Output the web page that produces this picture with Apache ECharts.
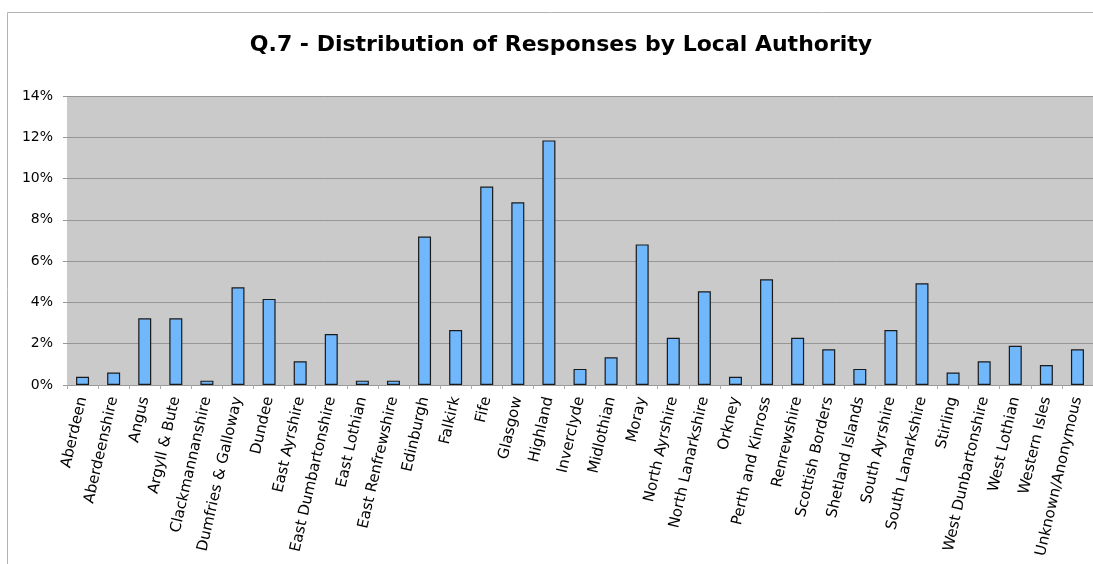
<!DOCTYPE html>
<html>
<head>
<meta charset="utf-8">
<script src="https://cdn.jsdelivr.net/npm/echarts@6/dist/echarts.min.js"></script>
<style>
  html, body { margin: 0; padding: 0; background: #fff; }
  #chart { width: 1093px; height: 564px; }
</style>
</head>
<body>
<div id="chart"></div>
<script>
// local authorities
const authorities = [
  "Aberdeen", "Aberdeenshire", "Angus", "Argyll & Bute", "Clackmannanshire",
  "Dumfries & Galloway", "Dundee", "East Ayrshire", "East Dumbartonshire",
  "East Lothian", "East Renfrewshire", "Edinburgh", "Falkirk", "Fife", "Glasgow",
  "Highland", "Inverclyde", "Midlothian", "Moray", "North Ayrshire",
  "North Lanarkshire", "Orkney", "Perth and Kinross", "Renrewshire",
  "Scottish Borders", "Shetland Islands", "South Ayrshire", "South Lanarkshire",
  "Stirling", "West Dunbartonshire", "West Lothian", "Western Isles",
  "Unknown/Anonymous"
];
// share of responses, %
const shares = [
  0.40, 0.60, 3.23, 3.23, 0.21,
  4.73, 4.17, 1.15, 2.47,
  0.21, 0.21, 7.19, 2.66, 9.61, 8.85,
  11.85, 0.78, 1.34, 6.81, 2.29,
  4.54, 0.40, 5.12, 2.29,
  1.73, 0.78, 2.66, 4.93,
  0.60, 1.15, 1.90, 0.97,
  1.73
];
const yTicks = { min: 0, max: 14, step: 2 };

const myChart = echarts.init(document.getElementById("chart"));
const option = {
  animation: false,
  title: {
    text: "Q.7 - Distribution of Responses by Local Authority",
    left: 556,
    textAlign: "center",
    top: 29,
    textStyle: {
      fontFamily: "DejaVu Sans",
      fontWeight: "bold",
      fontSize: 22,
      color: "#000",
    },
  },
  // outer frame of the chart
  graphic: [
    {
      type: "rect",
      shape: { x: 7.5, y: 12.5, width: 1200, height: 700 },
      style: { fill: null, stroke: "#b4b4b4", lineWidth: 1 },
      silent: true,
    },
  ],
  grid: {
    left: 67,
    top: 96,
    width: 1027,
    height: 289,
    show: true,
    backgroundColor: "#cacaca",
    borderWidth: 0,
  },
  xAxis: {
    type: "category",
    data: authorities,
    axisLine: { lineStyle: { color: "#999", width: 1 } },
    axisTick: { show: true, length: 4, lineStyle: { color: "#aaa" } },
    axisLabel: {
      interval: 0,
      rotate: 77,
      margin: 12,
      fontFamily: "DejaVu Sans",
      fontSize: 15,
      color: "#000",
    },
  },
  yAxis: {
    type: "value",
    min: yTicks.min,
    max: yTicks.max,
    interval: yTicks.step,
    axisLine: { show: false },
    axisTick: { show: true, length: 4, lineStyle: { color: "#999" } },
    axisLabel: {
      formatter: "{value}%",
      margin: 14,
      fontFamily: "DejaVu Sans",
      fontSize: 14,
      color: "#000",
    },
    splitLine: { lineStyle: { color: "#969696", width: 1 } },
  },
  series: [
    {
      type: "bar",
      data: shares,
      barWidth: 13,
      itemStyle: {
        color: "#70b7fc",
        borderColor: "#1a1a1a",
        borderWidth: 1.2,
      },
    },
  ],
};
myChart.setOption(option);
</script>
</body>
</html>
